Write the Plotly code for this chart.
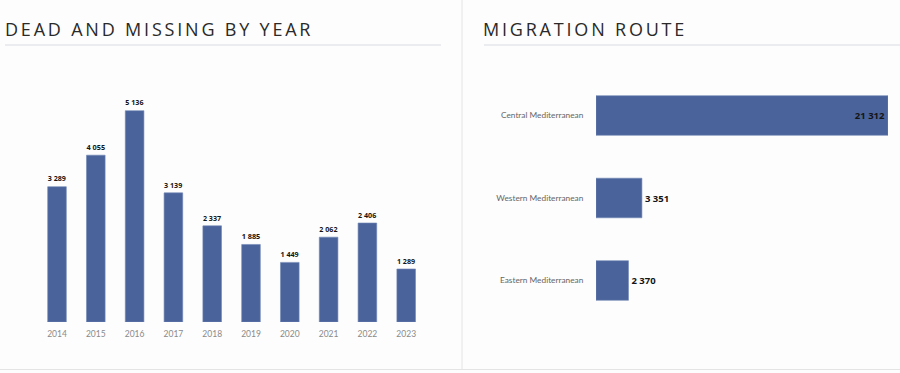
import plotly.graph_objects as go

# ---- data ----
years = ["2014", "2015", "2016", "2017", "2018", "2019", "2020", "2021", "2022", "2023"]
dead_missing = [3289, 4055, 5136, 3139, 2337, 1885, 1449, 2062, 2406, 1289]

routes = ["Central Mediterranean", "Western Mediterranean", "Eastern Mediterranean"]
route_values = [21312, 3351, 2370]

title_left = "DEAD AND MISSING BY YEAR"
title_right = "MIGRATION ROUTE"

# ---- layout helpers ----
W, H = 900, 373


def fx(p):
    return p / W


def fy(p):
    return 1 - p / H


BAR = "#4a639b"
BAR_LINE = "#7186b5"
LABEL_FONT = dict(family="Noto Sans", size=9.5, color="#151515", weight=700)

fig = go.Figure()

fig.add_trace(go.Bar(
    x=years, y=dead_missing, xaxis="x", yaxis="y",
    marker=dict(color=BAR, line=dict(color=BAR_LINE, width=0.6)),
    texttemplate="%{y:,}", textposition="outside", textangle=0,
    textfont=LABEL_FONT, cliponaxis=False, hoverinfo="skip",
))

fig.add_trace(go.Bar(
    y=routes, x=route_values, orientation="h", xaxis="x2", yaxis="y2",
    marker=dict(color=BAR, line=dict(color=BAR_LINE, width=0.6)),
    texttemplate="%{x:,}", textposition=["inside", "outside", "outside"],
    insidetextanchor="end", textangle=0, constraintext="none",
    textfont=LABEL_FONT, insidetextfont=LABEL_FONT, outsidetextfont=LABEL_FONT,
    cliponaxis=False, hoverinfo="skip",
))

scale_left = (322 - 110.7) / 5136.0

fig.update_layout(
    width=W, height=H,
    margin=dict(l=0, r=0, t=0, b=0),
    paper_bgcolor="#fdfdfd", plot_bgcolor="rgba(0,0,0,0)",
    showlegend=False, bargap=0.52, separators=". ",
    xaxis=dict(
        domain=[fx(37.6), fx(425.6)], type="category", range=[-0.5, 9.5],
        showgrid=False, zeroline=False, showline=False,
        ticks="outside", ticklen=4, tickcolor="rgba(0,0,0,0)",
        tickfont=dict(family="Lato", size=8.5, color="#8a8a8a"),
        fixedrange=True,
    ),
    yaxis=dict(
        domain=[fy(322), fy(90)], range=[0, 232 / scale_left],
        visible=False, fixedrange=True,
    ),
    xaxis2=dict(
        domain=[fx(596), fx(888)], range=[0, 21312], anchor="y2",
        visible=False, fixedrange=True,
    ),
    yaxis2=dict(
        domain=[fy(321.75), fy(74.25)], type="category", range=[2.5, -0.5],
        anchor="x2", showgrid=False, zeroline=False, showline=False,
        ticks="outside", ticklen=10, tickcolor="rgba(0,0,0,0)",
        tickfont=dict(family="Lato", size=8.3, color="#666666"),
        fixedrange=True,
    ),
    shapes=[
        dict(type="line", xref="paper", yref="paper", x0=fx(462), x1=fx(462),
             y0=fy(369), y1=1, line=dict(color="#e4e4e4", width=1)),
        dict(type="line", xref="paper", yref="paper", x0=0, x1=1,
             y0=fy(369.5), y1=fy(369.5), line=dict(color="#e4e4e4", width=1)),
        dict(type="line", xref="paper", yref="paper", x0=fx(5), x1=fx(441),
             y0=fy(45), y1=fy(45), line=dict(color="#d8dbe2", width=1)),
        dict(type="line", xref="paper", yref="paper", x0=fx(484), x1=1,
             y0=fy(45), y1=fy(45), line=dict(color="#d8dbe2", width=1)),
    ],
    annotations=[
        dict(text=title_left, xref="paper", yref="paper", x=fx(3), y=fy(29.5),
             xanchor="left", yanchor="middle", showarrow=False,
             font=dict(family="Open Sans", size=18, color="#2a2a2a")),
        dict(text=title_right, xref="paper", yref="paper", x=fx(481), y=fy(29.5),
             xanchor="left", yanchor="middle", showarrow=False,
             font=dict(family="Open Sans", size=18, color="#2a2a2a")),
    ],
)

post = """
document.body.style.margin = '0';
document.body.style.overflow = 'hidden';
document.querySelectorAll('.annotation-text').forEach(function(t){
  var b0 = t.getBBox();
  t.style.letterSpacing = '2.8px';
  var b1 = t.getBBox();
  var dx = b0.x - b1.x;
  var tr = t.getAttribute('transform') || '';
  t.setAttribute('transform', tr + ' translate(' + dx + ',0)');
});
"""

fig.write_html("out.html", post_script=post, config={"displayModeBar": False})
